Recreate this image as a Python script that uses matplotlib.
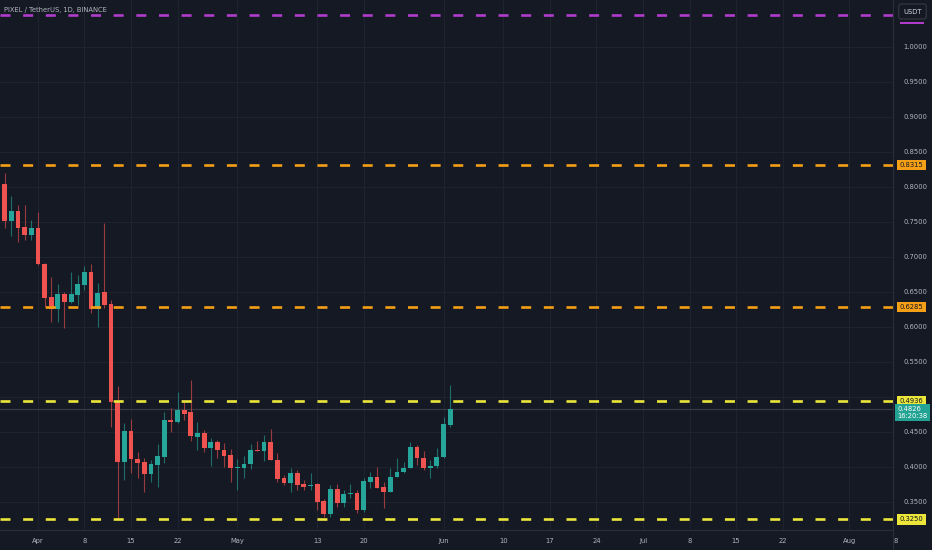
import datetime as dt
import matplotlib
matplotlib.use("Agg")
import matplotlib.pyplot as plt
import matplotlib.dates as mdates
from matplotlib.patches import Rectangle
from matplotlib.transforms import blended_transform_factory

plt.rcParams['font.family'] = ['DejaVu Sans']
plt.rcParams['font.stretch'] = 'condensed'
plt.rcParams['lines.scale_dashes'] = False

# daily candles, PIXEL/USDT, starting 2024-03-26
start = dt.datetime(2024, 3, 26)
opens = [0.8450, 0.8043, 0.7514, 0.7657, 0.7429, 0.7314, 0.7414, 0.6900, 0.6429, 0.6257,
         0.6471, 0.6357, 0.6457, 0.6600, 0.6786, 0.6257, 0.6500, 0.6329, 0.4929, 0.4071,
         0.4514, 0.4114, 0.4071, 0.3900, 0.4029, 0.4143, 0.4671, 0.4643, 0.4814, 0.4786,
         0.4429, 0.4486, 0.4271, 0.4357, 0.4243, 0.4171, 0.3986, 0.3986, 0.4043, 0.4243,
         0.4229, 0.4357, 0.4100, 0.3843, 0.3771, 0.3914, 0.3757, 0.3729, 0.3757, 0.3514,
         0.3329, 0.3686, 0.3486, 0.3614, 0.3629, 0.3386, 0.3786, 0.3857, 0.3714, 0.3643,
         0.3857, 0.3929, 0.3986, 0.4286, 0.4129, 0.3986, 0.4014, 0.4143, 0.4600]
closes = [0.8120, 0.7514, 0.7657, 0.7414, 0.7314, 0.7414, 0.6900, 0.6414, 0.6257, 0.6471,
          0.6357, 0.6471, 0.6614, 0.6786, 0.6257, 0.6486, 0.6314, 0.4929, 0.4071, 0.4514,
          0.4114, 0.4057, 0.3900, 0.4043, 0.4157, 0.4671, 0.4643, 0.4814, 0.4757, 0.4443,
          0.4486, 0.4271, 0.4357, 0.4243, 0.4157, 0.3986, 0.4000, 0.4043, 0.4243, 0.4229,
          0.4357, 0.4100, 0.3829, 0.3771, 0.3914, 0.3743, 0.3714, 0.3743, 0.3500, 0.3329,
          0.3686, 0.3486, 0.3614, 0.3629, 0.3386, 0.3800, 0.3857, 0.3700, 0.3643, 0.3857,
          0.3929, 0.3986, 0.4286, 0.4129, 0.3986, 0.4014, 0.4143, 0.4614, 0.4826]
highs = [0.8520, 0.8200, 0.7871, 0.7743, 0.7743, 0.7529, 0.7643, 0.6914, 0.6714, 0.6614,
         0.6500, 0.6786, 0.6743, 0.6871, 0.6900, 0.6629, 0.7486, 0.6386, 0.5157, 0.4629,
         0.4686, 0.4214, 0.4129, 0.4100, 0.4329, 0.4786, 0.4843, 0.5071, 0.4929, 0.5243,
         0.4643, 0.4529, 0.4414, 0.4386, 0.4343, 0.4257, 0.4114, 0.4157, 0.4329, 0.4371,
         0.4457, 0.4543, 0.4200, 0.3886, 0.3986, 0.3957, 0.3814, 0.3914, 0.3771, 0.3543,
         0.3743, 0.3757, 0.3671, 0.3757, 0.3671, 0.3843, 0.3929, 0.4000, 0.3786, 0.3986,
         0.4129, 0.4071, 0.4357, 0.4314, 0.4229, 0.4100, 0.4271, 0.4714, 0.5171]
lows = [0.8050, 0.7414, 0.7300, 0.7214, 0.7243, 0.7243, 0.6886, 0.6286, 0.6071, 0.6071,
        0.5986, 0.6343, 0.6314, 0.6529, 0.6200, 0.6000, 0.6271, 0.4571, 0.3243, 0.3814,
        0.3914, 0.3843, 0.3643, 0.3786, 0.3714, 0.4057, 0.4500, 0.4629, 0.4671, 0.4371,
        0.4243, 0.4214, 0.4014, 0.4129, 0.4000, 0.3786, 0.3671, 0.3843, 0.3971, 0.4229,
        0.4086, 0.4100, 0.3786, 0.3743, 0.3643, 0.3671, 0.3671, 0.3671, 0.3386, 0.3286,
        0.3286, 0.3429, 0.3429, 0.3557, 0.3343, 0.3357, 0.3700, 0.3700, 0.3414, 0.3643,
        0.3857, 0.3914, 0.3986, 0.4029, 0.3957, 0.3843, 0.3986, 0.4129, 0.4571]

# horizontal levels drawn on the chart
levels = [1.0457, 0.8315, 0.6285, 0.4936, 0.3250]
level_colors = ['#b03ccc', '#f59f16', '#f59f16', '#ece63a', '#ece63a']
level_labels = [None, '0.8315', '0.6285', '0.4936', '0.3250']

price_ticks = [1.0, 0.95, 0.9, 0.85, 0.8, 0.75, 0.7, 0.65, 0.6, 0.55, 0.45, 0.4, 0.35]
grid_prices = [1.0, 0.95, 0.9, 0.85, 0.8, 0.75, 0.7, 0.65, 0.6, 0.55, 0.5, 0.45, 0.4, 0.35]

date_ticks = [dt.datetime(2024, 4, 1), dt.datetime(2024, 4, 8), dt.datetime(2024, 4, 15),
              dt.datetime(2024, 4, 22), dt.datetime(2024, 5, 1), dt.datetime(2024, 5, 13),
              dt.datetime(2024, 5, 20), dt.datetime(2024, 6, 1), dt.datetime(2024, 6, 10),
              dt.datetime(2024, 6, 17), dt.datetime(2024, 6, 24), dt.datetime(2024, 7, 1),
              dt.datetime(2024, 7, 8), dt.datetime(2024, 7, 15), dt.datetime(2024, 7, 22),
              dt.datetime(2024, 8, 1), dt.datetime(2024, 8, 8)]
date_labels = ['Apr', '8', '15', '22', 'May', '13', '20', 'Jun', '10', '17', '24',
               'Jul', '8', '15', '22', 'Aug', '8']

last_price = 0.4826
countdown = '16:20:38'

bg = '#151924'
grid = '#1f2330'
up = '#26a69a'
down = '#ef5350'
txt = '#b2b5be'
fs = 5.4

fig = plt.figure(figsize=(9.32, 5.5), dpi=100, facecolor=bg)
ax = fig.add_axes([0, 20 / 550, 893 / 932, 530 / 550], facecolor=bg)

x0 = mdates.date2num(start)
xs = [x0 + i for i in range(len(opens))]

ax.set_xlim(x0 + 1 - 0.7, x0 + 1 + 133.6)
ax.set_ylim(0.3100, 1.0671)

for p in grid_prices:
    ax.axhline(p, color=grid, lw=0.8, zorder=0)
for d in date_ticks:
    ax.axvline(mdates.date2num(d), color=grid, lw=0.8, zorder=0)

# last price line
ax.axhline(last_price, color='#363a45', lw=0.9, zorder=1)

w = 0.72
for x, o, c, h, l in zip(xs, opens, closes, highs, lows):
    col = up if c >= o else down
    ax.vlines(x, l, h, color=col, lw=0.8, alpha=0.6, zorder=2)
    ax.add_patch(Rectangle((x - w / 2, min(o, c)), w, max(abs(c - o), 0.0012),
                           facecolor=col, edgecolor='none', zorder=3))

for lv, col in zip(levels, level_colors):
    ax.axhline(lv, color=col, lw=1.9, ls=(0, (7.2, 9.1)), zorder=4)

for s in ax.spines.values():
    s.set_visible(False)

ax.yaxis.tick_right()
ax.set_yticks(price_ticks)
ax.set_yticklabels([f'{p:.4f}' for p in price_ticks])
ax.tick_params(axis='y', length=0, pad=7.5, labelsize=fs, labelcolor=txt)
ax.set_xticks([])

tr = blended_transform_factory(ax.transData, ax.transAxes)
for d, lab in zip(date_ticks, date_labels):
    ax.text(mdates.date2num(d), -0.021, lab, transform=tr, ha='center', va='center',
            fontsize=fs, color=txt, clip_on=False)

# separators
fig.add_artist(plt.Line2D([893 / 932, 893 / 932], [0, 1], color='#2a2e39', lw=0.8))
fig.add_artist(plt.Line2D([0, 893 / 932], [20 / 550, 20 / 550], color='#2a2e39', lw=0.8))

# price labels on the axis
tr2 = blended_transform_factory(ax.transAxes, ax.transData)
for lv, col, lab in zip(levels, level_colors, level_labels):
    if lab is None:
        continue
    ax.text(1.0075, lv, lab, transform=tr2, ha='left', va='center', fontsize=fs,
            color='#131722', clip_on=False,
            bbox=dict(boxstyle='square,pad=0.3', fc=col, ec='none'))
ax.text(1.005, last_price + 0.0045, f'{last_price:.4f}\n{countdown}', transform=tr2,
        ha='left', va='top', fontsize=fs, color='white', linespacing=1.2, clip_on=False,
        bbox=dict(boxstyle='square,pad=0.3', fc='#22a393', ec='none'))

# currency button
fig.text(912.5 / 932, 1 - 11.5 / 550, 'USDT', ha='center', va='center', fontsize=fs,
         color='#d1d4dc',
         bbox=dict(boxstyle='round,pad=0.6,rounding_size=0.3', fc=bg, ec='#363a45', lw=0.8))
fig.add_artist(Rectangle((900 / 932, 1 - 24 / 550), 24 / 932, 2 / 550,
                         transform=fig.transFigure, facecolor=level_colors[0], edgecolor='none'))

fig.text(4 / 932, 1 - 10 / 550, 'PIXEL / TetherUS, 1D, BINANCE', ha='left', va='center',
         fontsize=fs, color=txt)

fig.savefig('out.png', dpi=100, facecolor=bg)
